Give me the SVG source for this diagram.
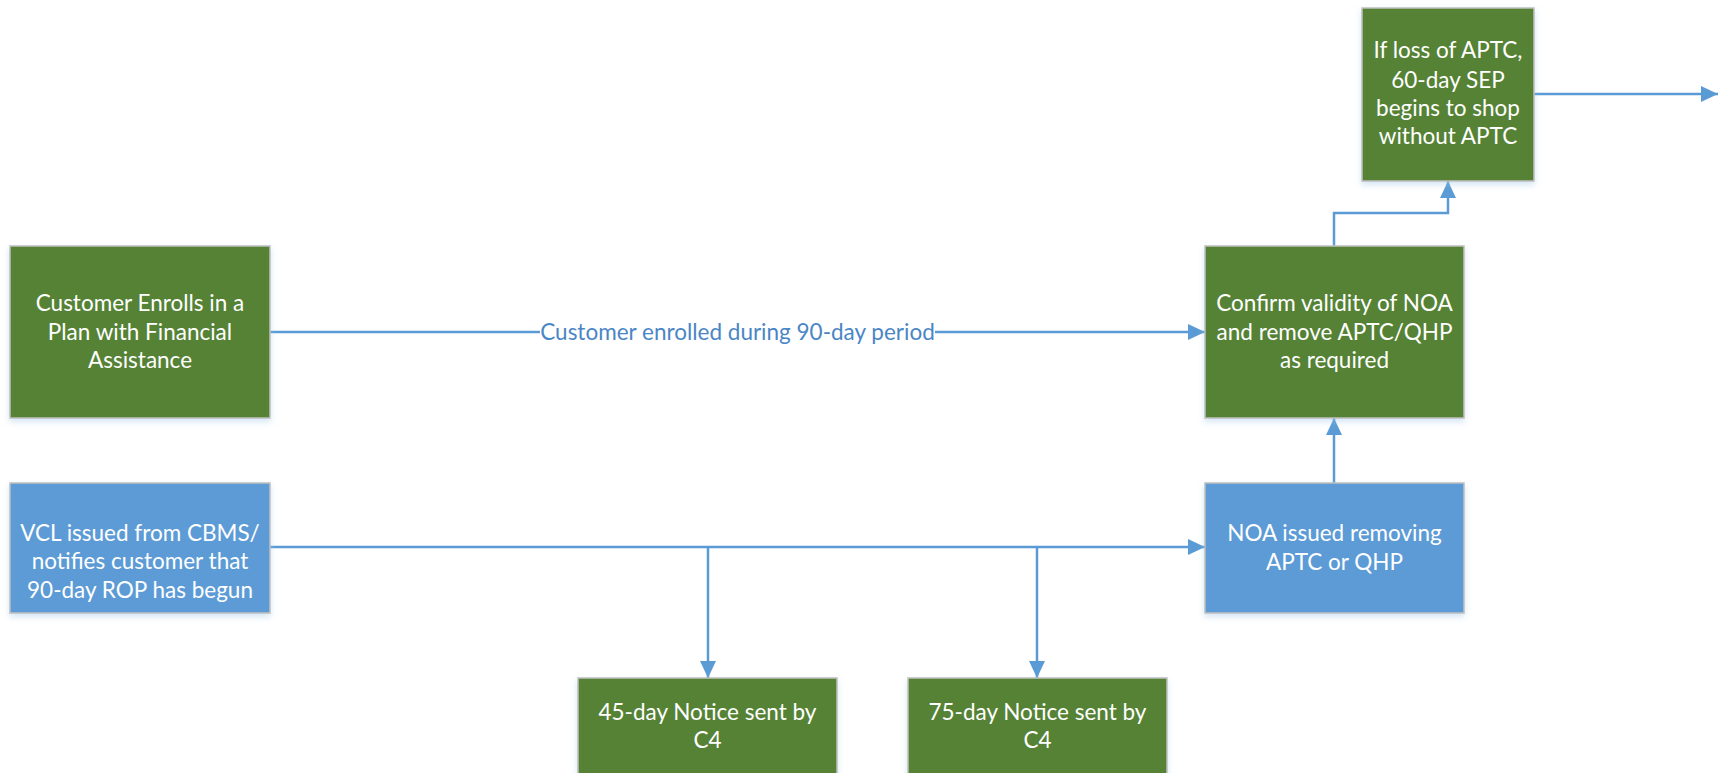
<svg xmlns="http://www.w3.org/2000/svg" width="1727" height="773" viewBox="0 0 1727 773">
<style>
.g{fill:#548235;stroke:#c0c0c0;stroke-width:1.5;filter:url(#sh)}
.b{fill:#5b9bd5;stroke:#c0c0c0;stroke-width:1.5;filter:url(#sh)}
.t{font-family:Lato,"Open Sans",sans-serif;font-size:22.5px;fill:#ffffff;text-anchor:middle}
.c{fill:none;stroke:#5b9bd5;stroke-width:2.5}
.lbl{font-family:Lato,"Open Sans",sans-serif;font-size:22.5px;fill:#4a86c5;text-anchor:middle}
</style>
<defs>
<filter id="sh" x="-10%" y="-10%" width="120%" height="130%">
<feDropShadow dx="0" dy="3" stdDeviation="3" flood-color="#9dc3e6" flood-opacity="0.45"/>
</filter>
<marker id="ah" markerUnits="userSpaceOnUse" markerWidth="18" markerHeight="18" viewBox="0 0 18 18" refX="17" refY="9" orient="auto">
<path d="M0,1 L17,9 L0,17 Z" fill="#5b9bd5"/>
</marker>
</defs>
<rect width="1727" height="773" fill="#ffffff"/>
<g id="connectors">
<path class="c" d="M270,332 H1205" marker-end="url(#ah)"/>
<rect x="540" y="318" width="395" height="28" fill="#ffffff"/>
<text class="lbl" x="737.5" y="340">Customer enrolled during 90-day period</text>
<path class="c" d="M270,547 H1205" marker-end="url(#ah)"/>
<path class="c" d="M708,547 V678" marker-end="url(#ah)"/>
<path class="c" d="M1037,547 V678" marker-end="url(#ah)"/>
<path class="c" d="M1334,483 V418" marker-end="url(#ah)"/>
<path class="c" d="M1334,246 V213 H1448 V181" marker-end="url(#ah)"/>
<path class="c" d="M1534,94 H1718" marker-end="url(#ah)"/>
</g>
<g id="n1">
<rect class="g" x="10" y="246" width="260" height="172"/>
<text class="t" x="140" y="311">Customer Enrolls in a</text>
<text class="t" x="140" y="340">Plan with Financial</text>
<text class="t" x="140" y="368">Assistance</text>
</g>
<g id="n2">
<rect class="b" x="10" y="483" width="260" height="130"/>
<text class="t" x="140" y="541">VCL issued from CBMS/</text>
<text class="t" x="140" y="569">notifies customer that</text>
<text class="t" x="140" y="598">90-day ROP has begun</text>
</g>
<g id="n3">
<rect class="g" x="1205" y="246" width="259" height="172"/>
<text class="t" x="1334.5" y="311">Confirm validity of NOA</text>
<text class="t" x="1334.5" y="340">and remove APTC/QHP</text>
<text class="t" x="1334.5" y="368">as required</text>
</g>
<g id="n4">
<rect class="b" x="1205" y="483" width="259" height="130"/>
<text class="t" x="1334.5" y="541">NOA issued removing</text>
<text class="t" x="1334.5" y="570">APTC or QHP</text>
</g>
<g id="n5">
<rect class="g" x="1362" y="8" width="172" height="173"/>
<text class="t" x="1448" y="58">If loss of APTC,</text>
<text class="t" x="1448" y="88">60-day SEP</text>
<text class="t" x="1448" y="116">begins to shop</text>
<text class="t" x="1448" y="144">without APTC</text>
</g>
<g id="n6">
<rect class="g" x="578" y="678" width="259" height="120"/>
<text class="t" x="707.5" y="720">45-day Notice sent by</text>
<text class="t" x="707.5" y="748">C4</text>
</g>
<g id="n7">
<rect class="g" x="908" y="678" width="259" height="120"/>
<text class="t" x="1037.5" y="720">75-day Notice sent by</text>
<text class="t" x="1037.5" y="748">C4</text>
</g>
</svg>
